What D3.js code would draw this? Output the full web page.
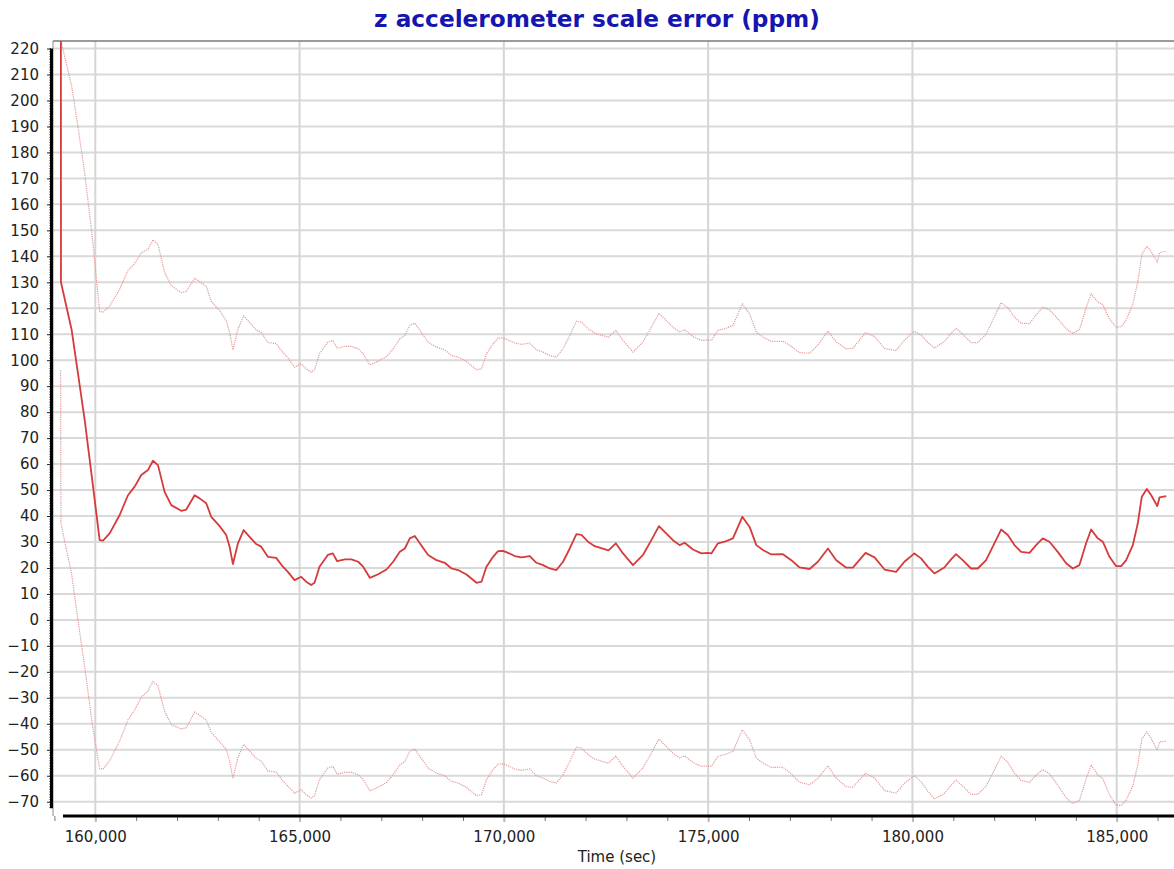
<!DOCTYPE html>
<html>
<head>
<meta charset="utf-8">
<script src="https://cdn.jsdelivr.net/npm/d3@7"></script>
<style>
  html, body { margin: 0; padding: 0; background: #ffffff; }
  svg { display: block; font-family: "DejaVu Sans", Verdana, sans-serif; }
</style>
</head>
<body>
<script>
// ---------------- data ----------------
const title = "z accelerometer scale error (ppm)";
const xLabel = "Time (sec)";

const time = [
  159150,159160,159422,159577,159741,159919,160107,160188,160352,160597,
  160800,160964,161126,161290,161411,161534,161697,161860,162104,162227,
  162431,162554,162716,162838,163043,163205,163287,163369,163491,163631,
  163777,163939,164061,164225,164428,164592,164714,164877,165040,165162,
  165284,165366,165488,165692,165814,165920,166108,166272,166434,166556,
  166720,166923,167128,167290,167454,167576,167698,167820,167943,168146,
  168351,168554,168718,168880,169085,169330,169452,169574,169736,169858,
  169981,170103,170267,170431,170634,170797,170960,171123,171287,171449,
  171613,171776,171898,172060,172224,172560,172740,172916,173160,173405,
  173610,173796,173936,174139,174303,174425,174628,174834,174995,175078,
  175240,175404,175607,175729,175837,176015,176179,176341,176546,176830,
  177035,177238,177483,177686,177931,178136,178381,178542,178853,179073,
  179318,179600,179803,180048,180211,180374,180537,180782,180945,181068,
  181230,181435,181598,181803,181966,182171,182334,182497,182660,182864,
  183027,183190,183353,183557,183762,183925,184088,184251,184373,184537,
  184659,184823,184986,185109,185231,185394,185516,185614,185737,185845,
  185992,186049,186212
];

// estimated scale error (ppm)
const estimate = [
  600,130,111.6,94.8,76.9,54.7,30.7,30.5,33.3,40.4,
  48,51.3,55.8,57.7,61.3,59.6,49.3,44.2,42,42.5,
  48,46.8,44.9,39.7,36.1,32.7,28.2,21.5,29.5,34.6,
  32,29.2,28.2,24.3,23.9,20.5,18.5,15.3,16.6,14.7,
  13.4,14.3,20.5,25,25.6,22.6,23.3,23.3,22.4,20.5,
  16.2,17.6,19.4,22.4,26.2,27.5,31.4,32.3,29.5,25,
  23,22,19.8,19.2,17.5,14.3,14.7,20.5,24.3,26.5,
  26.6,25.8,24.6,24.1,24.6,22,21.1,19.8,19.2,22.4,
  27.5,33,32.7,30.1,28.4,26.8,29.5,25.6,21.1,25,
  30.7,36.1,33.9,30.7,28.8,29.7,27.1,25.6,25.8,25.6,
  29.5,30.1,31.4,35.8,39.7,35.8,28.8,26.9,25.2,25.3,
  23,20.2,19.6,22.4,27.5,23,20.1,20.1,25.8,24.1,
  19.4,18.5,22.4,25.6,23.7,20.5,17.9,20.2,23.3,25.3,
  23,19.8,19.8,23,28.2,34.8,32.7,28.8,26.2,25.8,
  28.8,31.4,30.1,26.2,21.8,19.8,21.1,29.5,34.8,31.4,
  30.1,24.3,20.7,20.7,23,28.8,37.2,47.4,50.4,48,
  43.8,47.2,47.7
];

// one-sigma uncertainty (ppm) of the estimate
const sigma = [
  504,93,94,95,95,94,88,88,87.5,87,
  86.5,86,85.5,85,85,85,84.5,84.5,84,84,
  83.5,83.5,83.5,83,83,82.5,82.5,82.5,82.5,82.5,
  82.5,82.5,82.5,82.5,82.5,82.5,82.5,82,82,82,
  82,82,82,82,82,82,82,82,82,82,
  82,82,82,82,82,82,82,82,82,82,
  82,82,82,82,82,82,82,82,82,82,
  82,82,82,82,82,82,82,82,82,82,
  82,82,82,82,82,82,82,82,82,82,
  82,82,82,82,82,82,82,82,82,82,
  82,82,82,82,82,82,82,82,82,82,
  82.3,82.7,83.1,83.4,83.7,84,84.3,84.5,84.8,85,
  85.1,85.2,85.3,85.5,86,86.4,86.8,87,87,87,
  87,87,87,87,87.2,87.3,87.5,87.8,88,88.3,
  88.6,89,89.3,89.8,90.3,90.5,90.6,90.7,90.7,91,
  91.2,91.6,92,92.2,92.4,92.7,93,93.3,93.5,93.7,
  94,94.2,94.3
];

const xMajorTicks = [160000,165000,170000,175000,180000,185000];
const yMajorTicks = [-70,-60,-50,-40,-30,-20,-10,0,10,20,30,40,50,60,70,80,90,100,110,120,130,140,150,160,170,180,190,200,210,220];

// ---------------- layout ----------------
const W = 1174, H = 869;
const plot = { left: 53, top: 41, right: 1174, bottom: 816 };

const x = d3.scaleLinear().domain([158965, 186402]).range([plot.left, plot.right]);
const y = d3.scaleLinear().domain([-75.5, 222.9]).range([plot.bottom, plot.top]);

const svg = d3.select("body").append("svg").attr("width", W).attr("height", H);
svg.append("rect").attr("width", W).attr("height", H).attr("fill", "#ffffff");

// grid
const grid = svg.append("g");
grid.selectAll("line.h").data(yMajorTicks).join("line")
  .attr("x1", plot.left).attr("x2", plot.right)
  .attr("y1", d => y(d)).attr("y2", d => y(d))
  .attr("stroke", "#d9d9d9").attr("stroke-width", 2);
grid.selectAll("line.v").data(xMajorTicks).join("line")
  .attr("x1", d => x(d)).attr("x2", d => x(d))
  .attr("y1", plot.top).attr("y2", plot.bottom)
  .attr("stroke", "#d5d5d5").attr("stroke-width", 2);

// frame (top + left gray)
svg.append("line").attr("x1", plot.left).attr("x2", plot.right).attr("y1", plot.top).attr("y2", plot.top)
  .attr("stroke", "#7a7a7a").attr("stroke-width", 1.5);
svg.append("line").attr("x1", plot.left).attr("x2", plot.left).attr("y1", plot.top).attr("y2", plot.bottom)
  .attr("stroke", "#8a8a8a").attr("stroke-width", 1);

// data
svg.append("clipPath").attr("id", "clip").append("rect")
  .attr("x", plot.left).attr("y", plot.top)
  .attr("width", plot.right - plot.left).attr("height", plot.bottom - plot.top);

const idx = d3.range(time.length);
const lineOf = f => d3.line().x(i => x(time[i])).y(i => y(f(i)));
const gData = svg.append("g").attr("clip-path", "url(#clip)");

gData.append("path").datum(idx)
  .attr("d", lineOf(i => estimate[i] + sigma[i]))
  .attr("fill", "none").attr("stroke", "#e39a9a").attr("stroke-width", 1.2)
  .attr("stroke-dasharray", "1.2,1");
gData.append("path").datum(idx)
  .attr("d", lineOf(i => estimate[i] - sigma[i]))
  .attr("fill", "none").attr("stroke", "#e39a9a").attr("stroke-width", 1.2)
  .attr("stroke-dasharray", "1.2,1");
gData.append("path").datum(idx)
  .attr("d", lineOf(i => estimate[i]))
  .attr("fill", "none").attr("stroke", "#d63a3a").attr("stroke-width", 1.8)
  .attr("stroke-linejoin", "round");

// y axis
const yMinor = d3.range(-72, 221, 1);
const gyMinor = svg.append("g").attr("transform", "translate(51,0)")
  .call(d3.axisLeft(y).tickValues(yMinor).tickSize(2).tickFormat(""));
gyMinor.select(".domain").remove();
gyMinor.selectAll(".tick line").attr("stroke", "#666").attr("stroke-width", 0.8);

const gy = svg.append("g").attr("transform", "translate(51,0)")
  .call(d3.axisLeft(y).tickValues(yMajorTicks).tickSize(4).tickPadding(8).tickFormat(d3.format("d")));
gy.select(".domain").remove();
gy.selectAll(".tick line").attr("stroke", "#222");
gy.selectAll(".tick text").attr("font-size", 15).attr("fill", "#222")
  .attr("font-family", "'DejaVu Sans', Verdana, sans-serif");

svg.append("line").attr("x1", 51.5).attr("x2", 51.5).attr("y1", y(220)).attr("y2", y(-72.5))
  .attr("stroke", "#000").attr("stroke-width", 3);

// x axis
const xMinor = d3.range(159000, 186001, 1000);
const gxMinor = svg.append("g").attr("transform", `translate(0,${plot.bottom})`)
  .call(d3.axisBottom(x).tickValues(xMinor).tickSize(5).tickFormat(""));
gxMinor.select(".domain").remove();
gxMinor.selectAll(".tick line").attr("stroke", "#777").attr("stroke-width", 1);

const gx = svg.append("g").attr("transform", `translate(0,${plot.bottom})`)
  .call(d3.axisBottom(x).tickValues(xMajorTicks).tickSize(6).tickPadding(9).tickFormat(d3.format(",")));
gx.select(".domain").remove();
gx.selectAll(".tick line").attr("stroke", "#bbb").attr("stroke-width", 2);
gx.selectAll(".tick text").attr("font-size", 15).attr("fill", "#222")
  .attr("font-family", "'DejaVu Sans', Verdana, sans-serif");

svg.append("line").attr("x1", x(159210)).attr("x2", plot.right).attr("y1", plot.bottom).attr("y2", plot.bottom)
  .attr("stroke", "#000").attr("stroke-width", 3);

// axis title
svg.append("text").attr("x", 617).attr("y", 862).attr("text-anchor", "middle")
  .attr("font-size", 15).attr("fill", "#222").text(xLabel);

// chart title
const t = svg.append("text").attr("x", 597).attr("y", 27).attr("text-anchor", "middle")
  .attr("font-size", 20).attr("font-weight", "bold").attr("fill", "#1515b0").text(title);
const tw = t.node().getComputedTextLength();
t.attr("font-size", 20 * 446 / tw);
</script>
</body>
</html>
